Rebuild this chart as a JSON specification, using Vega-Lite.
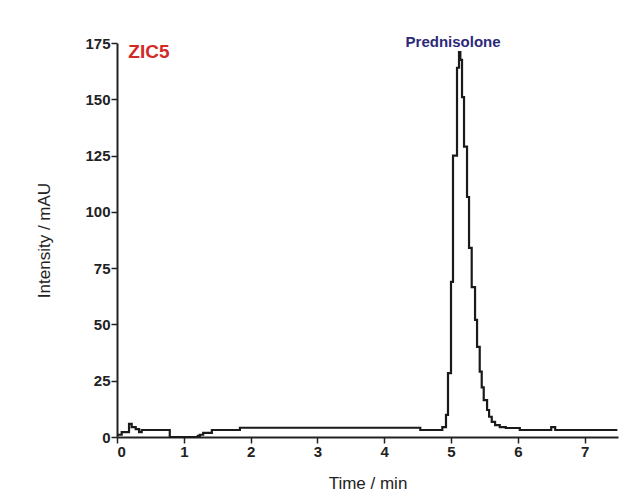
{
  "$schema": "https://vega.github.io/schema/vega-lite/v6.json",
  "autosize": {"type": "none"},
  "width": 501,
  "height": 394,
  "padding": {"left": 117, "top": 43, "right": 22, "bottom": 63},
  "background": "white",
  "config": {
    "view": {"stroke": null},
    "font": "Liberation Sans",
    "axis": {
      "domainColor": "#222",
      "domainWidth": 2,
      "tickColor": "#222",
      "tickWidth": 1.5,
      "grid": false,
      "labelColor": "#222",
      "labelFontWeight": "bold",
      "labelFontSize": 15,
      "labelFont": "Liberation Sans",
      "titleFont": "Liberation Sans",
      "titleFontWeight": "normal",
      "titleFontSize": 17,
      "titleColor": "#222",
      "labelOverlap": false
    }
  },
  "datasets": {
    "trace": [
      {"t": 0.0, "v": 1.0},
      {"t": 0.07, "v": 2.2},
      {"t": 0.18, "v": 5.8},
      {"t": 0.22, "v": 4.4},
      {"t": 0.28, "v": 3.5},
      {"t": 0.33, "v": 2.2},
      {"t": 0.37, "v": 3.1},
      {"t": 0.79, "v": 0.0},
      {"t": 1.21, "v": 0.5},
      {"t": 1.24, "v": 1.0},
      {"t": 1.29, "v": 1.8},
      {"t": 1.42, "v": 3.1},
      {"t": 1.84, "v": 4.1},
      {"t": 4.54, "v": 3.1},
      {"t": 4.87, "v": 4.4},
      {"t": 4.925, "v": 9.8},
      {"t": 4.955, "v": 28.4},
      {"t": 5.0, "v": 68.9},
      {"t": 5.03, "v": 125},
      {"t": 5.09, "v": 164},
      {"t": 5.12, "v": 171},
      {"t": 5.14, "v": 167.5},
      {"t": 5.165, "v": 151},
      {"t": 5.195, "v": 129},
      {"t": 5.24, "v": 106.6},
      {"t": 5.27, "v": 84},
      {"t": 5.31, "v": 66.6},
      {"t": 5.36, "v": 52},
      {"t": 5.39, "v": 40},
      {"t": 5.43, "v": 29},
      {"t": 5.46, "v": 22},
      {"t": 5.49, "v": 16.4},
      {"t": 5.54, "v": 12},
      {"t": 5.57, "v": 9},
      {"t": 5.61, "v": 6.7},
      {"t": 5.66, "v": 5.3},
      {"t": 5.73, "v": 4.4},
      {"t": 5.82, "v": 4.0},
      {"t": 6.03, "v": 3.1},
      {"t": 6.5, "v": 4.4},
      {"t": 6.56, "v": 3.1},
      {"t": 7.49, "v": 3.1}
    ],
    "labels": [
      {"t": 0.17, "v": 171, "text": "ZIC5", "kind": "sample"},
      {"t": 4.32, "v": 175.5, "text": "Prednisolone", "kind": "compound"}
    ]
  },
  "layer": [
    {
      "data": {"name": "trace"},
      "mark": {"type": "line", "interpolate": "step-after", "color": "#1a1a1a", "strokeWidth": 2.2},
      "encoding": {
        "x": {
          "field": "t", "type": "quantitative",
          "scale": {"domain": [0, 7.5], "nice": false, "zero": false},
          "axis": {
            "title": "Time / min",
            "values": [0, 0.5, 1, 1.5, 2, 2.5, 3, 3.5, 4, 4.5, 5, 5.5, 6, 6.5, 7, 7.5],
            "labelExpr": "datum.value % 1 === 0 ? format(datum.value, 'd') : ''",
            "tickSize": {"condition": {"test": "datum.value % 1 === 0", "value": 6}, "value": 3},
            "labelPadding": 1,
            "titlePadding": 16
          }
        },
        "y": {
          "field": "v", "type": "quantitative",
          "scale": {"domain": [0, 175], "nice": false},
          "axis": {
            "title": "Intensity / mAU",
            "values": [0, 12.5, 25, 37.5, 50, 62.5, 75, 87.5, 100, 112.5, 125, 137.5, 150, 162.5, 175],
            "labelExpr": "datum.value % 25 === 0 ? format(datum.value, 'd') : ''",
            "tickSize": {"condition": {"test": "datum.value % 25 === 0", "value": 6}, "value": 3},
            "labelPadding": 1,
            "titlePadding": 31
          }
        }
      }
    },
    {
      "data": {"name": "labels"},
      "mark": {"type": "text", "fontWeight": "bold", "font": "Liberation Sans", "baseline": "middle", "align": "left"},
      "encoding": {
        "x": {"field": "t", "type": "quantitative"},
        "y": {"field": "v", "type": "quantitative"},
        "text": {"field": "text"},
        "color": {
          "field": "kind", "type": "nominal", "legend": null,
          "scale": {"domain": ["sample", "compound"], "range": ["#d42a26", "#2c2a78"]}
        },
        "size": {
          "field": "kind", "type": "nominal", "legend": null,
          "scale": {"domain": ["sample", "compound"], "range": [19, 15]}
        }
      }
    }
  ]
}
